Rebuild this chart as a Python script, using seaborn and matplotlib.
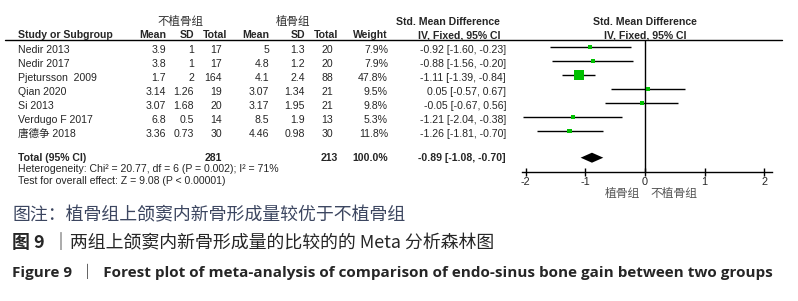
import matplotlib
matplotlib.use("Agg")
import matplotlib.pyplot as plt
import seaborn as sns
import pandas as pd

sns.set_style("white")
plt.rcParams['font.family'] = ['Liberation Sans', 'Noto Sans CJK SC', 'DejaVu Sans']

# data
studies = ["Nedir 2013", "Nedir 2017", "Pjetursson  2009", "Qian 2020", "Si 2013",
           "Verdugo F 2017", "唐德争 2018"]
mean_no = [3.9, 3.8, 1.7, 3.14, 3.07, 6.8, 3.36]
sd_no = [1, 1, 2, 1.26, 1.68, 0.5, 0.73]
n_no = [17, 17, 164, 19, 20, 14, 30]
mean_graft = [5, 4.8, 4.1, 3.07, 3.17, 8.5, 4.46]
sd_graft = [1.3, 1.2, 2.4, 1.34, 1.95, 1.9, 0.98]
n_graft = [20, 20, 88, 21, 21, 13, 30]
weight = [7.9, 7.9, 47.8, 9.5, 9.8, 5.3, 11.8]
smd = [-0.92, -0.88, -1.11, 0.05, -0.05, -1.21, -1.26]
ci_lo = [-1.60, -1.56, -1.39, -0.57, -0.67, -2.04, -1.81]
ci_hi = [-0.23, -0.20, -0.84, 0.67, 0.56, -0.38, -0.70]
total_smd, total_lo, total_hi = -0.89, -1.08, -0.70
x_ticks = [-2, -1, 0, 1, 2]

W, H = 798, 301
fig = plt.figure(figsize=(W / 100, H / 100), dpi=100)

# text layer in pixel coordinates
ax = fig.add_axes([0, 0, 1, 1])
ax.set_xlim(0, W)
ax.set_ylim(H, 0)
ax.axis('off')

fs = 7.6
row0, step = 47, 14.0
rows = [row0 + step * i for i in range(len(studies))]
dy = 2.8

ax.text(180, 22, "不植骨组", ha='center', va='center', fontsize=8.3, color='#333333',
        family=['Noto Sans CJK SC'])
ax.text(293, 22, "植骨组", ha='center', va='center', fontsize=8.3, color='#333333',
        family=['Noto Sans CJK SC'])
ax.text(448, 22, "Std. Mean Difference", ha='center', va='center', fontsize=fs, weight='bold')
ax.text(645, 22, "Std. Mean Difference", ha='center', va='center', fontsize=fs, weight='bold')
ax.text(645, 35, "IV, Fixed, 95% CI", ha='center', va='center', fontsize=fs, weight='bold')

hy = 35
ax.text(18, hy, "Study or Subgroup", ha='left', va='center', fontsize=fs, weight='bold')
for x, lab in [(166, "Mean"), (194, "SD"), (227, "Total"), (269, "Mean"), (305, "SD"),
               (338, "Total"), (388, "Weight"), (500, "IV, Fixed, 95% CI")]:
    ax.text(x, hy, lab, ha='right', va='center', fontsize=fs, weight='bold')
ax.plot([5, 782], [39.5, 39.5], color='black', lw=1)

for i, y in enumerate(rows):
    ty = y + dy
    ax.text(18, ty, studies[i], ha='left', va='center', fontsize=fs)
    ax.text(166, ty, f"{mean_no[i]:g}", ha='right', va='center', fontsize=fs)
    ax.text(194, ty, f"{sd_no[i]:g}", ha='right', va='center', fontsize=fs)
    ax.text(222, ty, f"{n_no[i]}", ha='right', va='center', fontsize=fs)
    ax.text(269, ty, f"{mean_graft[i]:g}", ha='right', va='center', fontsize=fs)
    ax.text(305, ty, f"{sd_graft[i]:g}", ha='right', va='center', fontsize=fs)
    ax.text(333, ty, f"{n_graft[i]}", ha='right', va='center', fontsize=fs)
    ax.text(388, ty, f"{weight[i]:.1f}%", ha='right', va='center', fontsize=fs)
    ax.text(506, ty, f"{smd[i]:.2f} [{ci_lo[i]:.2f}, {ci_hi[i]:.2f}]",
            ha='right', va='center', fontsize=fs)

ty = 158
ax.text(18, ty, "Total (95% CI)", ha='left', va='center', fontsize=fs, weight='bold')
ax.text(222, ty, f"{sum(n_no)}", ha='right', va='center', fontsize=fs, weight='bold')
ax.text(338, ty, f"{sum(n_graft)}", ha='right', va='center', fontsize=fs, weight='bold')
ax.text(388, ty, "100.0%", ha='right', va='center', fontsize=fs, weight='bold')
ax.text(506, ty, f"{total_smd:.2f} [{total_lo:.2f}, {total_hi:.2f}]",
        ha='right', va='center', fontsize=fs, weight='bold')
ax.text(18, 169.5, "Heterogeneity: Chi² = 20.77, df = 6 (P = 0.002); I² = 71%",
        ha='left', va='center', fontsize=fs)
ax.text(18, 180.5, "Test for overall effect: Z = 9.08 (P < 0.00001)",
        ha='left', va='center', fontsize=fs)

# captions
ax.text(12, 215, "图注：植骨组上颌窦内新骨形成量较优于不植骨组", ha='left', va='center',
        fontsize=12.9, color='#3c4660', family=['Noto Sans CJK SC'], weight='light')
ax.text(12, 243, "图 9", ha='left', va='center', fontsize=12.9, weight='bold',
        family=['Noto Sans CJK SC', 'DejaVu Sans'])
ax.text(52, 243, "｜两组上颌窦内新骨形成量的比较的的 Meta 分析森林图", ha='left', va='center',
        fontsize=12.9, family=['Noto Sans CJK SC', 'DejaVu Sans'])
ax.text(12, 272, "Figure 9  ｜  Forest plot of meta-analysis of comparison of endo-sinus bone gain between two groups",
        ha='left', va='center', fontsize=10.95, weight='bold',
        family=['Open Sans', 'Noto Sans CJK SC'])

# forest panel
x0, x1, ytop, ybot = 521.7, 771.7, 39.5, 171.7
unit = 59.6
fax = fig.add_axes([x0 / W, (H - ybot) / H, (x1 - x0) / W, (ybot - ytop) / H])
fax.set_facecolor('none')
fax.set_xlim((x0 - 645) / unit, (x1 - 645) / unit)
fax.set_ylim(ybot, ytop)
for s in ['top', 'left', 'right']:
    fax.spines[s].set_visible(False)
fax.spines['bottom'].set_color('black')
fax.spines['bottom'].set_linewidth(1)
fax.set_yticks([])
fax.set_xticks(x_ticks)
fax.set_xticklabels([str(t) for t in x_ticks])
fax.tick_params(axis='x', direction='inout', length=6, width=1, color='black',
                labelsize=7.8, pad=1, bottom=True)
fax.axvline(0, color='black', lw=1)

fax.hlines(rows, ci_lo, ci_hi, color='black', lw=1)
df = pd.DataFrame({"smd": smd, "row": rows, "weight": weight})
sns.scatterplot(data=df, x="smd", y="row", size="weight", sizes=(5.8, 52),
                size_norm=(5.3, 47.8), marker='s', color='#00c000', linewidth=0,
                legend=False, ax=fax, zorder=3)
fax.fill([total_lo, total_smd, total_hi, total_smd], [157.7, 152.7, 157.7, 162.7],
         color='black', lw=0)
fax.set_xlabel("")
fax.set_ylabel("")

ax.text(640, 194, "植骨组", ha='right', va='center', fontsize=8.5, color='#555555',
        family=['Noto Sans CJK SC'])
ax.text(650, 194, "不植骨组", ha='left', va='center', fontsize=8.5, color='#555555',
        family=['Noto Sans CJK SC'])

fig.savefig("out.png", dpi=100)
